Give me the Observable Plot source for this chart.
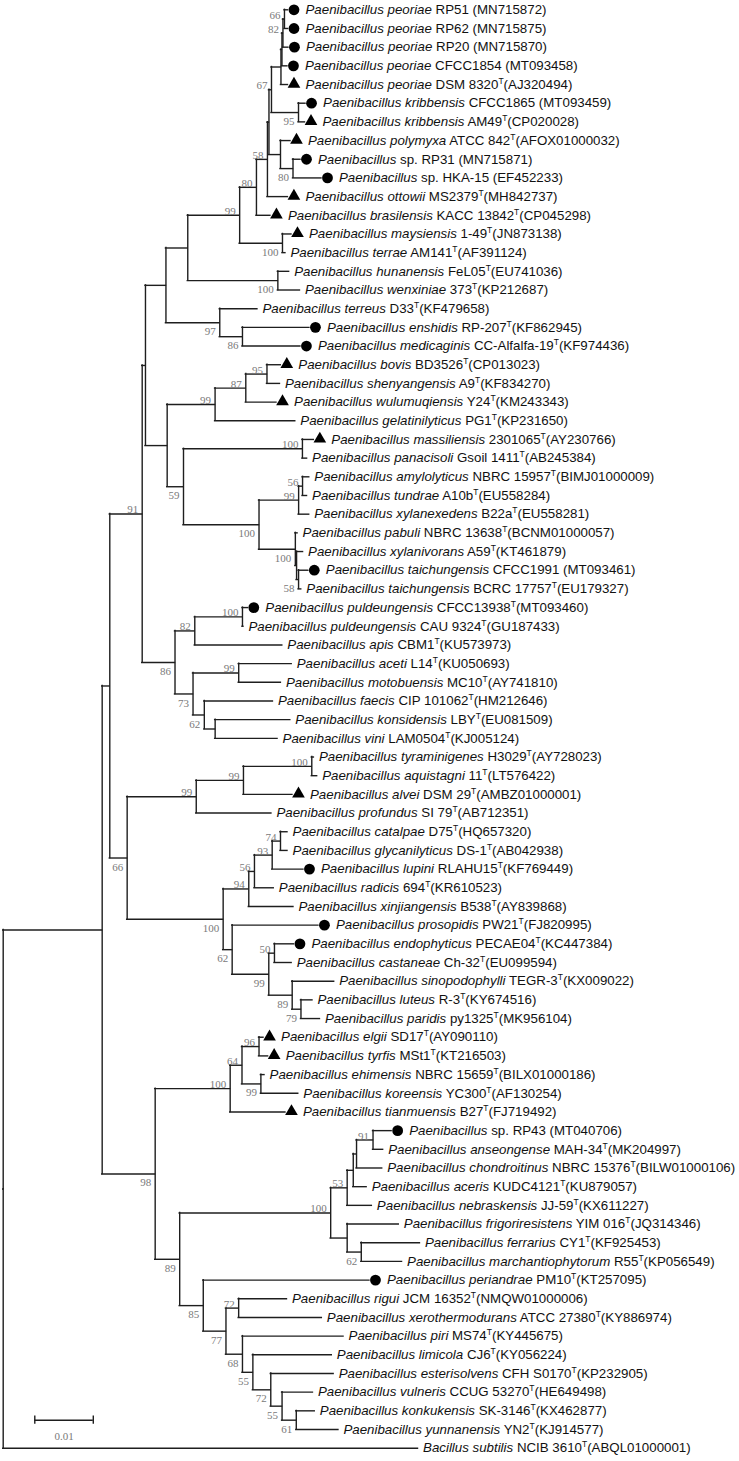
<!DOCTYPE html>
<html>
<head>
<meta charset="utf-8">
<script src="https://cdn.jsdelivr.net/npm/d3@7"></script>
<script src="https://cdn.jsdelivr.net/npm/@observablehq/plot@0.6"></script>
<style>
  html, body { margin: 0; padding: 0; background: #fff; }
  #chart { width: 739px; height: 1461px; }
</style>
</head>
<body>
<div id="chart"></div>
<script>
// ---------- DATA ----------
// Leaf order (top to bottom). Italic name part, strain, type-strain flag, accession, marker.
const leafItalic = [
  "Paenibacillus peoriae","Paenibacillus peoriae","Paenibacillus peoriae","Paenibacillus peoriae","Paenibacillus peoriae",
  "Paenibacillus kribbensis","Paenibacillus kribbensis","Paenibacillus polymyxa","Paenibacillus","Paenibacillus",
  "Paenibacillus ottowii","Paenibacillus brasilensis","Paenibacillus maysiensis","Paenibacillus terrae","Paenibacillus hunanensis",
  "Paenibacillus wenxiniae","Paenibacillus terreus","Paenibacillus enshidis","Paenibacillus medicaginis","Paenibacillus bovis",
  "Paenibacillus shenyangensis","Paenibacillus wulumuqiensis","Paenibacillus gelatinilyticus","Paenibacillus massiliensis","Paenibacillus panacisoli",
  "Paenibacillus amylolyticus","Paenibacillus tundrae","Paenibacillus xylanexedens","Paenibacillus pabuli","Paenibacillus xylanivorans",
  "Paenibacillus taichungensis","Paenibacillus taichungensis","Paenibacillus puldeungensis","Paenibacillus puldeungensis","Paenibacillus apis",
  "Paenibacillus aceti","Paenibacillus motobuensis","Paenibacillus faecis","Paenibacillus konsidensis","Paenibacillus vini",
  "Paenibacillus tyraminigenes","Paenibacillus aquistagni","Paenibacillus alvei","Paenibacillus profundus","Paenibacillus catalpae",
  "Paenibacillus glycanilyticus","Paenibacillus lupini","Paenibacillus radicis","Paenibacillus xinjiangensis","Paenibacillus prosopidis",
  "Paenibacillus endophyticus","Paenibacillus castaneae","Paenibacillus sinopodophylli","Paenibacillus luteus","Paenibacillus paridis",
  "Paenibacillus elgii","Paenibacillus tyrfis","Paenibacillus ehimensis","Paenibacillus koreensis","Paenibacillus tianmuensis",
  "Paenibacillus","Paenibacillus anseongense","Paenibacillus chondroitinus","Paenibacillus aceris","Paenibacillus nebraskensis",
  "Paenibacillus frigoriresistens","Paenibacillus ferrarius","Paenibacillus marchantiophytorum","Paenibacillus periandrae","Paenibacillus rigui",
  "Paenibacillus xerothermodurans","Paenibacillus piri","Paenibacillus limicola","Paenibacillus esterisolvens","Paenibacillus vulneris",
  "Paenibacillus konkukensis","Paenibacillus yunnanensis","Bacillus subtilis"
];
const leafStrain = [
  "RP51","RP62","RP20","CFCC1854","DSM 8320",
  "CFCC1865","AM49","ATCC 842","sp. RP31","sp. HKA-15",
  "MS2379","KACC 13842","1-49","AM141","FeL05",
  "373","D33","RP-207","CC-Alfalfa-19","BD3526",
  "A9","Y24","PG1","2301065","Gsoil 1411",
  "NBRC 15957","A10b","B22a","NBRC 13638","A59",
  "CFCC1991","BCRC 17757","CFCC13938","CAU 9324","CBM1",
  "L14","MC10","CIP 101062","LBY","LAM0504",
  "H3029","11","DSM 29","SI 79","D75",
  "DS-1","RLAHU15","694","B538","PW21",
  "PECAE04","Ch-32","TEGR-3","R-3","py1325",
  "SD17","MSt1","NBRC 15659","YC300","B27",
  "sp. RP43","MAH-34","NBRC 15376","KUDC4121","JJ-59",
  "YIM 016","CY1","R55","PM10","JCM 16352",
  "ATCC 27380","MS74","CJ6","CFH S0170","CCUG 53270",
  "SK-3146","YN2","NCIB 3610"
];
const leafTypeStrain = [
  0,0,0,0,1, 0,1,1,0,0, 1,1,1,1,1, 1,1,1,1,1, 1,1,1,1,1, 1,1,1,1,1,
  0,1,1,1,1, 1,1,1,1,1, 1,1,1,1,1, 1,1,1,1,1, 1,1,1,1,1, 1,1,1,1,1,
  0,1,1,1,1, 1,1,1,1,1, 1,1,1,1,1, 1,1,1
];
const leafAccession = [
  "MN715872","MN715875","MN715870","MT093458","AJ320494",
  "MT093459","CP020028","AFOX01000032","MN715871","EF452233",
  "MH842737","CP045298","JN873138","AF391124","EU741036",
  "KP212687","KF479658","KF862945","KF974436","CP013023",
  "KF834270","KM243343","KP231650","AY230766","AB245384",
  "BIMJ01000009","EU558284","EU558281","BCNM01000057","KT461879",
  "MT093461","EU179327","MT093460","GU187433","KU573973",
  "KU050693","AY741810","HM212646","EU081509","KJ005124",
  "AY728023","LT576422","AMBZ01000001","AB712351","HQ657320",
  "AB042938","KF769449","KR610523","AY839868","FJ820995",
  "KC447384","EU099594","KX009022","KY674516","MK956104",
  "AY090110","KT216503","BILX01000186","AF130254","FJ719492",
  "MT040706","MK204997","BILW01000106","KU879057","KX611227",
  "JQ314346","KF925453","KP056549","KT257095","NMQW01000006",
  "KY886974","KY445675","KY056224","KP232905","HE649498",
  "KX462877","KJ914577","ABQL01000001"
];
// c = circle, t = triangle, "" = none
const leafMarker = [
  "c","c","c","c","t", "c","t","t","c","c", "t","t","t","","", "","","c","c","t",
  "","t","","t","", "","","","","", "c","","c","","", "","","","","",
  "","","t","","", "","c","","","c", "c","","","","", "t","t","","","t",
  "c","","","","", "","","","c","", "","","","","", "","",""
];

// Tree topology (leaf ids = row index), bootstrap values and branch lengths (substitutions/site)
const nwkPeoriae = "(((((0:0.0006,1:0.0006)66:0.00026,2:0.00094)82:0.00017,3:0.00094):0.00017,4:0.0012):0.00162,(5:0.0012,6:0.00111)95:0.00462)67:0.00043";
const nwkPolymyxa = "(7:0.00171,(8:0.00128,9:0.00487)80:0.00214):0.00197";
const nwkTop = "(((((" + nwkPeoriae + "," + nwkPolymyxa + "):0.00026,10:0.0035)58:0.00188,11:0.00239)80:0.00287,(12:0.00154,13:0.00051)100:0.00732)99:0.00887,(14:0.00193,15:0.00378)100:0.0154):0.00373";
const nwkTerreus = "(16:0.00644,(17:0.01145,18:0.00991)86:0.00388)97:0.0092";
const nwkBovis = "((((19:0.00236,20:0.00222)95:0.00362,21:0.00525)87:0.00525,22:0.01371)99:0.00819,((23:0.00195,24:0.0008)100:0.02033,(((25:0.00115,26:0.00077)56:0.00067,27:0.00181)99:0.00677,(28:0.00038,(29:0.00111,(30:0.00166,31:0.00046)58:0.00034):0.00021)100:0.00621)100:0.01291)59:0.00279):0.00371";
const nwkPuldeung = "(((32:0.00091,33:0.00017)100:0.00815,34:0.01496)82:0.00338,((35:0.00906,36:0.00721)99:0.00781,(37:0.01173,(38:0.01285,39:0.01067):0.00185)62:0.00193)73:0.00308)86:0.00561";
const nwkAlvei = "((((40:0.00036,41:0.00092)100:0.01168,42:0.00838)99:0.00807,43:0.01285)99:0.01181,(((((44:0.0012,45:0.0012)74:0.00142,46:0.00535)93:0.00303,47:0.0033)56:0.00097,48:0.00764)94:0.00438,(49:0.01475,((50:0.00333,51:0.00294)50:0.00097,(52:0.00718,(53:0.00197,54:0.00325)79:0.0015)89:0.004)99:0.00626)62:0.00154)100:0.01641)66:0.00297";
const nwkElgii = "((((55:0.00077,56:0.00156)96:0.00291,(57:0.00062,58:0.00639)99:0.00323)64:0.00202,59:0.00945)100:0.01282,((((((60:0.00318,61:0.00173)91:0.00282,62:0.00439):0.00056,63:0.00229):0.00104,64:0.00422)53:0.00282,(65:0.00882,(66:0.01003,67:0.00697)62:0.00241):0.00282)100:0.02581,(68:0.02841,((69:0.00826,70:0.01422)72:0.00217,(71:0.01728,(72:0.01349,(73:0.01075,(74:0.00528,(75:0.00316,76:0.00721)61:0.00243)55:0.00193)72:0.00306)55:0.00178)68:0.00282)77:0.00388)85:0.00403)89:0.00419)98:0.00906";
const nwkTree = "((((((" + "(" + nwkTop + "," + nwkTerreus + "):0.0035," + nwkBovis + "):0.00056," + nwkPuldeung + ")91:0.00554," + nwkAlvei + "):0.0013," + nwkElgii + "):0.01692,77:0.07091);";

const scaleBarStart = 0.0054;
const scaleBarLength = 0.01;
const scaleBarRow = 75.5;
const scaleBarText = "0.01";

// ---------- BUILD ----------
function parseNewick(s) {
  let i = 0;
  function node() {
    const n = {children: []};
    if (s[i] === "(") {
      i++;
      n.children.push(node());
      while (s[i] === ",") { i++; n.children.push(node()); }
      i++;
    }
    let name = "";
    while (i < s.length && !",():;".includes(s[i])) name += s[i++];
    n.name = name;
    n.length = 0;
    if (s[i] === ":") {
      i++;
      let num = "";
      while (i < s.length && !",();".includes(s[i])) num += s[i++];
      n.length = +num;
    }
    return n;
  }
  return node();
}

const root = parseNewick(nwkTree);
const horiz = [], vert = [], leaves = [], boots = [];
(function walk(n, parentDepth, isUpper) {
  n.depth = parentDepth + n.length;
  if (n.children.length === 0) {
    n.y = +n.name;
  } else {
    n.children.forEach((c, k) => walk(c, n.depth, k === 0));
    n.y = (n.children[0].y + n.children[n.children.length - 1].y) / 2;
    vert.push({x: n.depth, y1: n.children[0].y, y2: n.children[n.children.length - 1].y});
    if (n.name) boots.push({depth: n.depth, y: n.y, label: n.name, upper: isUpper});
  }
  if (n !== root) horiz.push({x1: parentDepth, x2: n.depth, y: n.y});
  if (n.children.length === 0) {
    const i = +n.name;
    const full = leafItalic[i] + " " + leafStrain[i] + (leafTypeStrain[i] ? "T(" : " (") + leafAccession[i] + ")";
    leaves.push({i, depth: n.depth, y: n.y, marker: leafMarker[i], full});
  }
})(root, 0, true);
leaves.sort((a, b) => a.i - b.i);

const leavesPlain = leaves.filter(d => !d.marker);
const leavesMarked = leaves.filter(d => d.marker);
const byFull = new Map(leaves.map(d => [d.full, d.i]));

const sansFont = "'Liberation Sans', Arial, sans-serif";
const serifFont = "'Liberation Serif', 'Times New Roman', serif";
const lineColor = "#1e1e1e";
const pxPerUnit = 5850;
const leafFontSize = 13.3;

const chart = Plot.plot({
  width: 739,
  height: 1461,
  margin: 0,
  style: {background: "#fff"},
  x: {domain: [0, 0.12], range: [2.7, 2.7 + 0.12 * pxPerUnit], axis: null},
  y: {domain: [0, 77], range: [9.3, 1447.7], axis: null},
  marks: [
    Plot.ruleY(horiz, {x1: "x1", x2: "x2", y: "y", stroke: lineColor, strokeWidth: 1.4, strokeLinecap: "square"}),
    Plot.ruleX(vert, {x: "x", y1: "y1", y2: "y2", stroke: lineColor, strokeWidth: 1.4, strokeLinecap: "square"}),
    Plot.dot(leavesMarked.filter(d => d.marker === "c"), {x: "depth", y: "y", dx: 6, r: 5.4, fill: "#000", stroke: "none", symbol: "circle"}),
    Plot.dot(leavesMarked.filter(d => d.marker === "t"), {x: "depth", y: "y", dx: 6, dy: -0.5, r: 4.7, fill: "#000", stroke: "none", symbol: "triangle"}),
    Plot.text(leavesPlain, {x: "depth", y: "y", text: "full", dx: 5, textAnchor: "start", fontSize: leafFontSize, fontFamily: sansFont, fill: "#111"}),
    Plot.text(leavesMarked, {x: "depth", y: "y", text: "full", dx: 17.5, textAnchor: "start", fontSize: leafFontSize, fontFamily: sansFont, fill: "#111"}),
    Plot.text(boots.filter(d => d.upper), {x: "depth", y: "y", text: "label", dx: -4, dy: -4, textAnchor: "end", fontSize: 11, fontFamily: serifFont, fill: "#7a7a7a"}),
    Plot.text(boots.filter(d => !d.upper), {x: "depth", y: "y", text: "label", dx: -4, dy: 9, textAnchor: "end", fontSize: 11, fontFamily: serifFont, fill: "#7a7a7a"}),
    Plot.ruleY([{x1: scaleBarStart, x2: scaleBarStart + scaleBarLength, y: scaleBarRow}], {x1: "x1", x2: "x2", y: "y", stroke: lineColor, strokeWidth: 1.4}),
    Plot.ruleX([scaleBarStart, scaleBarStart + scaleBarLength], {x: d => d, y1: scaleBarRow - 0.22, y2: scaleBarRow + 0.22, stroke: lineColor, strokeWidth: 1.4}),
    Plot.text([{x: scaleBarStart + scaleBarLength / 2, y: scaleBarRow, t: scaleBarText}], {x: "x", y: "y", text: "t", dy: 16, textAnchor: "middle", fontSize: 11, fontFamily: serifFont, fill: "#7a7a7a"})
  ]
});

// Rich formatting of leaf labels: italic name, superscript T for type strains
function richLabel(el, i) {
  const t = d3.select(el);
  t.text(null);
  t.append("tspan").attr("font-style", "italic").text(leafItalic[i]);
  t.append("tspan").text(" " + leafStrain[i]);
  if (leafTypeStrain[i]) {
    t.append("tspan").attr("dy", -5).attr("font-size", 8.5).text("T");
    t.append("tspan").attr("dy", 5).text("(" + leafAccession[i] + ")");
  } else {
    t.append("tspan").text(" (" + leafAccession[i] + ")");
  }
}
chart.querySelectorAll("text").forEach(el => {
  const key = el.textContent;
  if (byFull.has(key)) richLabel(el, byFull.get(key));
});

document.getElementById("chart").appendChild(chart);
</script>
</body>
</html>
